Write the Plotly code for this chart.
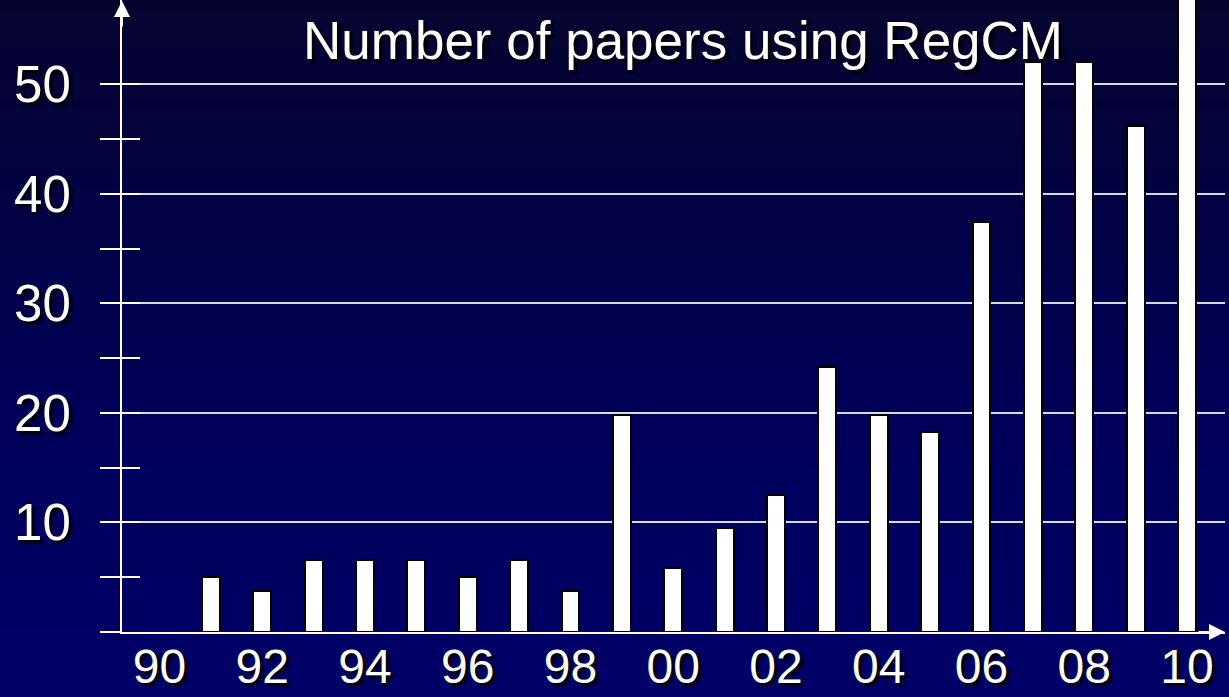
import plotly.graph_objects as go

# ---- data ----
years = list(range(1991, 2011))
papers = [5, 3.7, 6.6, 6.6, 6.6, 5, 6.6, 3.7, 19.8, 5.8,
          9.5, 12.5, 24.2, 19.8, 18.3, 37.4, 52, 52, 46.2, 58]
x_tick_years = [1990, 1992, 1994, 1996, 1998, 2000, 2002, 2004, 2006, 2008, 2010]
x_tick_text = ["90", "92", "94", "96", "98", "00", "02", "04", "06", "08", "10"]
y_major = [10, 20, 30, 40, 50]
y_major_text = ["10", "20", "30", "40", "50"]
y_minor = [0, 5, 15, 25, 35, 45]
y_all = [5, 10, 15, 20, 25, 30, 35, 40, 45, 50]
title_text = "Number of papers using RegCM"

W, H = 1229, 697
ML, MR, MT, MB = 122, 4, 0, 65
plot_h = H - MT - MB

FONT = "Liberation Sans, Arial, sans-serif"
SHADOW = "3px 3px 3px #000000"

fig = go.Figure()
fig.add_trace(go.Bar(
    x=years, y=papers, width=0.35,
    marker=dict(color="white", line=dict(color="black", width=2)),
    hoverinfo="x+y", showlegend=False,
))
# invisible helper trace to host the overlay axis (inside ticks)
fig.add_trace(go.Scatter(x=[years[0]], y=[0], yaxis="y2", mode="markers",
                         marker=dict(opacity=0), hoverinfo="skip", showlegend=False))

# gradient background bands
def lerp(c1, c2, t):
    return tuple(int(round(a + (b - a) * t)) for a, b in zip(c1, c2))

top_c = (6, 4, 46)
mid_c = (0, 0, 90)
bot_c = (0, 0, 104)
n_bands = 70
shapes = []
for i in range(n_bands):
    p0 = H * i / n_bands
    p1 = H * (i + 1) / n_bands + 1
    t = (p0 + p1) / 2 / H
    if t < 0.6:
        c = lerp(top_c, mid_c, t / 0.6)
    else:
        c = lerp(mid_c, bot_c, (t - 0.6) / 0.4)
    y0 = (plot_h + MT - p0) / plot_h
    y1 = (plot_h + MT - p1) / plot_h
    shapes.append(dict(type="rect", xref="paper", yref="paper",
                       x0=-0.2, x1=1.1, y0=y1, y1=y0, layer="below",
                       line=dict(width=0), fillcolor="rgb(%d,%d,%d)" % c))

fig.update_layout(
    width=W, height=H,
    margin=dict(l=ML, r=MR, t=MT, b=MB, autoexpand=False),
    paper_bgcolor="rgb(0,0,104)",
    plot_bgcolor="rgba(0,0,0,0)",
    shapes=shapes,
    bargap=0,
    xaxis=dict(
        range=[1989.27, 2010.74], automargin=False,
        tickvals=x_tick_years, ticktext=x_tick_text,
        ticks="", showgrid=False, zeroline=False,
        showline=True, linecolor="white", linewidth=2,
        tickfont=dict(family=FONT, size=48, color="white", shadow=SHADOW),
        ticklabelstandoff=-9,
    ),
    yaxis=dict(
        range=[0, 57.7], automargin=False,
        tickvals=y_major, ticktext=y_major_text,
        ticks="outside", ticklen=20, tickwidth=2, tickcolor="white",
        showgrid=True, gridcolor="rgba(255,255,255,0.85)", gridwidth=2,
        zeroline=False, showline=True, linecolor="white", linewidth=2,
        tickfont=dict(family=FONT, size=51, color="white", shadow=SHADOW),
        ticklabelstandoff=19,
        minor=dict(tickvals=y_minor, ticks="outside", ticklen=20, tickwidth=2,
                   tickcolor="white", showgrid=False),
    ),
    yaxis2=dict(
        range=[0, 57.7], overlaying="y", side="left", automargin=False,
        tickvals=y_all, ticks="inside", ticklen=18, tickwidth=2, tickcolor="white",
        showticklabels=False, showgrid=False, zeroline=False, showline=False,
    ),
    annotations=[
        dict(text=title_text, xref="paper", yref="paper",
             x=(683 - ML) / (W - ML - MR), y=(plot_h + MT - 40) / plot_h,
             xanchor="center", yanchor="middle", showarrow=False,
             font=dict(family=FONT, size=53, color="white", shadow=SHADOW)),
        # y axis arrow
        dict(xref="paper", yref="paper", x=0, y=1, ax=0, ay=28,
             axref="pixel", ayref="pixel", text="", showarrow=True,
             arrowhead=2, arrowsize=1.6, arrowwidth=2, arrowcolor="white"),
        # x axis arrow
        dict(xref="paper", yref="paper", x=1, y=0, ax=-28, ay=0,
             axref="pixel", ayref="pixel", text="", showarrow=True,
             arrowhead=2, arrowsize=1.6, arrowwidth=2, arrowcolor="white"),
    ],
)

fig.write_html("out.html",
               config={"displayModeBar": False},
               post_script="document.body.style.margin='0';"
                           "document.body.style.overflow='hidden';")
